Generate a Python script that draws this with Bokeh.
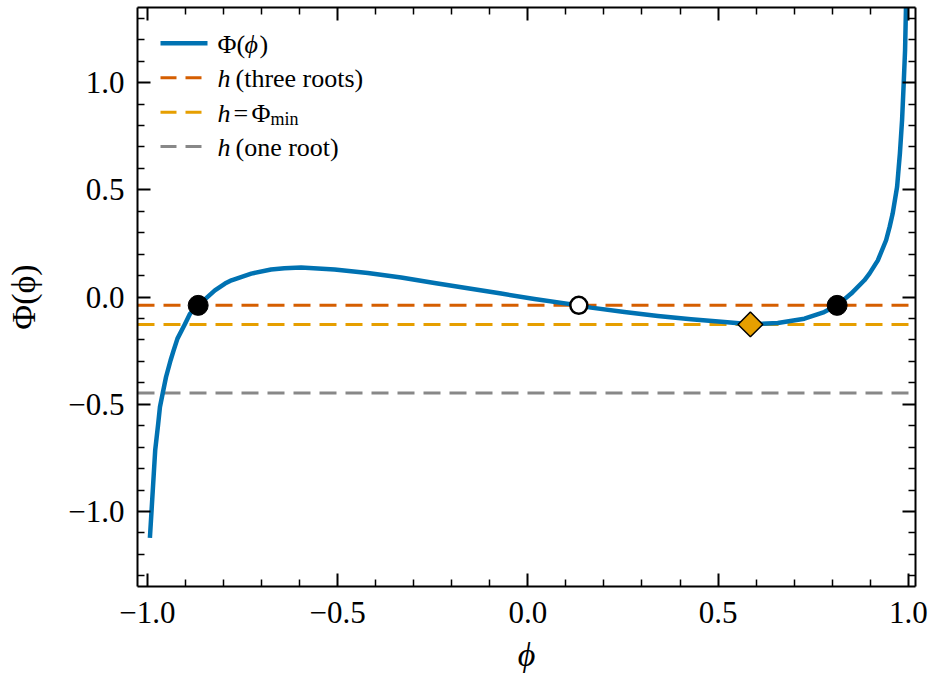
import math
from bokeh.plotting import figure
from bokeh.models import (Range1d, LinearAxis, FixedTicker, CustomJSTickFormatter,
                          Span, Label)
from bokeh.embed import file_html
from bokeh.resources import INLINE

# ---------------- data ----------------
phi = [-0.9934, -0.989, -0.9795, -0.9716, -0.967, -0.960, -0.951, -0.939,
       -0.931, -0.921, -0.9015, -0.888, -0.8665, -0.8226, -0.796, -0.779,
       -0.727, -0.675, -0.640, -0.596, -0.508, -0.4205,
       -0.333, -0.2455, -0.158, -0.070, 0.0174, 0.134, 0.166, 0.254, 0.3417,
       0.429, 0.5167, 0.585, 0.657, 0.727, 0.779, 0.813, 0.85, 0.8846, 0.898,
       0.92, 0.9417, 0.951, 0.959, 0.9706, 0.975, 0.978, 0.9837, 0.988,
       0.9916, 0.994, 0.9955]
Phi = [-1.123, -0.995, -0.715, -0.591, -0.513, -0.451, -0.373, -0.295,
       -0.249, -0.194, -0.127, -0.078, -0.039, 0.031, 0.0625, 0.078,
       0.109, 0.128, 0.134, 0.137, 0.128, 0.112,
       0.0905, 0.0653, 0.0406, 0.0159, -0.009, -0.039, -0.0496, -0.070, -0.0886,
       -0.104, -0.1166, -0.1274, -0.121, -0.101, -0.070, -0.039, 0.016, 0.078, 0.109,
       0.171, 0.2646, 0.327, 0.389, 0.513, 0.607, 0.669, 0.8245, 0.996,
       1.151, 1.353, 1.5]

h_three = -0.039      # h (three roots)
h_min = -0.128        # h = Phi_min
h_one = -0.448        # h (one root)

outer_roots_x = [-0.8665, 0.813]
outer_roots_y = [h_three, h_three]
middle_root_x = [0.134]
middle_root_y = [h_three]
min_x = [0.585]
min_y = [h_min]

x_major = [-1.0, -0.5, 0.0, 0.5, 1.0]
x_minor = [-0.9, -0.8, -0.7, -0.6, -0.4, -0.3, -0.2, -0.1,
           0.1, 0.2, 0.3, 0.4, 0.6, 0.7, 0.8, 0.9]
y_major = [-1.0, -0.5, 0.0, 0.5, 1.0]
y_minor = [-1.3, -1.2, -1.1, -0.9, -0.8, -0.7, -0.6, -0.4, -0.3, -0.2, -0.1,
           0.1, 0.2, 0.3, 0.4, 0.6, 0.7, 0.8, 0.9, 1.1, 1.2, 1.3]

x_label = "ϕ"
y_label = "Φ(ϕ)"

BLUE = "#0072B2"
VERMILION = "#D55E00"
ORANGE = "#E69F00"
GREY = "#888888"
FONT = "Liberation Serif"

# ---------------- layout ----------------
X0, X1 = -1.026, 1.019
Y0, Y1 = -1.35, 1.35
FL, FR, FT, FB = 137, 915, 7, 586
W, H = 934, 685


def px_x(px):
    return X0 + (px - FL) / (FR - FL) * (X1 - X0)


def px_y(py):
    return Y1 - (py - FT) / (FB - FT) * (Y1 - Y0)


p = figure(width=W, height=H, x_range=Range1d(X0, X1), y_range=Range1d(Y0, Y1),
           output_backend="svg", toolbar_location=None,
           min_border_left=FL, min_border_right=W - FR,
           min_border_top=FT, min_border_bottom=H - FB)
p.grid.visible = False
p.outline_line_color = None
p.background_fill_color = "white"
p.border_fill_color = "white"

fmt = CustomJSTickFormatter(code="return (tick < -1e-9 ? '\u2212' : '') + Math.abs(tick).toFixed(1);")
blank = CustomJSTickFormatter(code="return '';")


def style_axis(ax, major, minor, labels=True):
    ax.ticker = FixedTicker(ticks=major, minor_ticks=minor)
    ax.major_tick_in = 13
    ax.major_tick_out = 0
    ax.minor_tick_in = 7
    ax.minor_tick_out = 0
    ax.major_tick_line_width = 2
    ax.minor_tick_line_width = 1.5
    ax.axis_line_width = 2
    ax.axis_line_color = "black"
    ax.major_tick_line_color = "black"
    ax.minor_tick_line_color = "black"
    ax.axis_label = None
    if labels:
        ax.formatter = fmt
        ax.major_label_text_font = FONT
        ax.major_label_text_font_size = "31px"
        ax.major_label_text_color = "black"
    else:
        ax.formatter = blank
        ax.major_label_text_font_size = "1px"
        ax.major_label_standoff = 0


xa = p.xaxis[0]
style_axis(xa, x_major, x_minor)
xa.major_label_standoff = 15
xa.axis_label = x_label
xa.axis_label_text_font = FONT
xa.axis_label_text_font_size = "34px"
xa.axis_label_text_font_style = "italic"
xa.axis_label_text_color = "black"
xa.axis_label_standoff = 10

ya = p.yaxis[0]
style_axis(ya, y_major, y_minor)
ya.major_label_standoff = 13
ya.axis_label = y_label
ya.axis_label_text_font = FONT
ya.axis_label_text_font_size = "34px"
ya.axis_label_text_font_style = "normal"
ya.axis_label_text_color = "black"
ya.axis_label_standoff = 23

top_ax = LinearAxis()
style_axis(top_ax, x_major, x_minor, labels=False)
p.add_layout(top_ax, "above")
right_ax = LinearAxis()
style_axis(right_ax, y_major, y_minor, labels=False)
p.add_layout(right_ax, "right")

# ---------------- horizontal levels ----------------
for hv, col in [(h_three, VERMILION), (h_min, ORANGE), (h_one, GREY)]:
    p.add_layout(Span(location=hv, dimension="width", line_color=col,
                      line_width=3, line_dash="17 9", level="underlay"))

# ---------------- curve and markers ----------------
p.line(phi, Phi, line_color=BLUE, line_width=4.5, line_join="round")
p.scatter(outer_roots_x, outer_roots_y, marker="circle", size=20,
          fill_color="black", line_color="black")
p.scatter(middle_root_x, middle_root_y, marker="circle", size=17,
          fill_color="white", line_color="black", line_width=2.5)
p.scatter(min_x, min_y, marker="square", size=17.5, angle=math.pi / 4,
          fill_color=ORANGE, line_color="black", line_width=1.5)

# ---------------- legend (drawn by hand for mixed italics) ----------------
legend_rows_px = [42.7, 77.3, 111.7, 146.0]
legend_cols = [(BLUE, None), (VERMILION, "16 9"), (ORANGE, "16 9"), (GREY, "16 9")]
for ypx, (col, dash) in zip(legend_rows_px, legend_cols):
    kw = dict(line_color=col, line_width=4.5 if dash is None else 3)
    if dash is not None:
        kw["line_dash"] = dash
    p.line([px_x(160), px_x(207)], [px_y(ypx), px_y(ypx)], **kw)


def txt(xpx, ypx, s, size="26px", style="normal"):
    p.add_layout(Label(x=px_x(xpx), y=px_y(ypx), x_units="data", y_units="data",
                       text=s, text_font=FONT, text_font_size=size,
                       text_font_style=style, text_color="black",
                       text_baseline="middle", text_align="left"))


b = 1.0
# row 1: Φ(ϕ)
txt(217, legend_rows_px[0] + b, "Φ(")
txt(244, legend_rows_px[0] + b, "ϕ", style="italic")
txt(259, legend_rows_px[0] + b, ")")
# row 2: h (three roots)
txt(217, legend_rows_px[1] + b, "h", style="italic")
txt(235, legend_rows_px[1] + b, "(three roots)")
# row 3: h = Φ_min
txt(217, legend_rows_px[2] + b, "h", style="italic")
txt(233, legend_rows_px[2] + b, "=")
txt(251, legend_rows_px[2] + b, "Φ")
txt(270, legend_rows_px[2] + b + 6, "min", size="18px")
# row 4: h (one root)
txt(217, legend_rows_px[3] + b, "h", style="italic")
txt(235, legend_rows_px[3] + b, "(one root)")

open("out.html", "w").write(file_html(p, INLINE))
